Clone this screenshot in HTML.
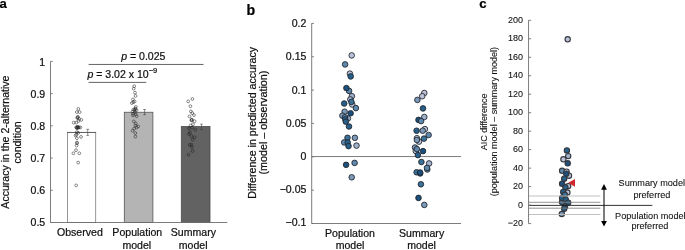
<!DOCTYPE html>
<html lang="en"><head><meta charset="utf-8"><title>Figure</title>
<style>
html,body{margin:0;padding:0;background:#fff;}
body{width:685px;height:250px;overflow:hidden;}
svg{display:block;}
text{font-family:"Liberation Sans", sans-serif;fill:#111;stroke:#111;stroke-width:0.22px;}
.t{font-size:10.55px;}
#panel-c .t{stroke-width:0.08px;}
.pl{font-size:12.8px;font-weight:bold;fill:#000;}
.ax{stroke:#6e6e6e;stroke-width:0.9;fill:none;}
.oc{fill:none;stroke:#1e1e1e;stroke-width:0.52;}
.dc{stroke:#1e2229;stroke-width:0.85;}
</style></head><body>
<svg width="685" height="250" viewBox="0 0 685 250">
<rect width="685" height="250" fill="#ffffff"/>
<g id="panel-a">
<text class="pl" x="-0.4" y="8.3" style="font-size:13.1px">a</text>
<rect x="67.4" y="132.45" width="28.3" height="90.1" fill="#ffffff" stroke="#7c7c7c" stroke-width="0.8"/>
<path d="M67.0 132.45 H96.1" stroke="#5a5a5a" stroke-width="0.9" fill="none"/>
<rect x="124.3" y="112.25" width="28.6" height="110.2" fill="#b4b4b4" stroke="#555555" stroke-width="0.8"/>
<rect x="181.3" y="126.5" width="28.7" height="96.0" fill="#626262" stroke="#4c4c4c" stroke-width="0.8"/>
<path class="ax" d="M50.5 61.4 V222.5 H227.3"/>
<path class="ax" d="M50.5 222.50 h2.2"/>
<text class="t" x="45.2" y="226.10" text-anchor="end">0.5</text>
<path class="ax" d="M50.5 190.28 h2.2"/>
<text class="t" x="45.2" y="193.98" text-anchor="end">0.6</text>
<path class="ax" d="M50.5 158.06 h2.2"/>
<text class="t" x="45.2" y="161.86" text-anchor="end">0.7</text>
<path class="ax" d="M50.5 125.84 h2.2"/>
<text class="t" x="45.2" y="129.74" text-anchor="end">0.8</text>
<path class="ax" d="M50.5 93.62 h2.2"/>
<text class="t" x="45.2" y="97.62" text-anchor="end">0.9</text>
<path class="ax" d="M50.5 61.40 h2.2"/>
<text class="t" x="45.2" y="65.50" text-anchor="end">1</text>
<circle class="oc" cx="78.3" cy="108.9" r="1.4"/>
<circle class="oc" cx="76.8" cy="112.1" r="1.4"/>
<circle class="oc" cx="79.6" cy="112.1" r="1.4"/>
<circle class="oc" cx="77.9" cy="116.8" r="1.4"/>
<circle class="oc" cx="77.6" cy="117.4" r="1.4"/>
<circle class="oc" cx="77.3" cy="118" r="1.4"/>
<circle class="oc" cx="79" cy="118.8" r="1.4"/>
<circle class="oc" cx="81.4" cy="119.9" r="1.4"/>
<circle class="oc" cx="73.7" cy="122.6" r="1.4"/>
<circle class="oc" cx="76.3" cy="122.6" r="1.4"/>
<circle class="oc" cx="78.5" cy="121" r="1.4"/>
<circle class="oc" cx="76.2" cy="127.3" r="1.4"/>
<circle class="oc" cx="76.8" cy="127.6" r="1.4"/>
<circle class="oc" cx="77.5" cy="127.2" r="1.4"/>
<circle class="oc" cx="78.2" cy="127.7" r="1.4"/>
<circle class="oc" cx="79.0" cy="127.4" r="1.4"/>
<circle class="oc" cx="77.0" cy="128.2" r="1.4"/>
<circle class="oc" cx="77.8" cy="126.8" r="1.4"/>
<circle class="oc" cx="80.3" cy="127.5" r="1.4"/>
<circle class="oc" cx="76.9" cy="132.1" r="1.4"/>
<circle class="oc" cx="78.2" cy="132.9" r="1.4"/>
<circle class="oc" cx="76.3" cy="134.5" r="1.4"/>
<circle class="oc" cx="75.6" cy="135.6" r="1.4"/>
<circle class="oc" cx="81" cy="136.9" r="1.4"/>
<circle class="oc" cx="76.9" cy="138.2" r="1.4"/>
<circle class="oc" cx="76.9" cy="142.6" r="1.4"/>
<circle class="oc" cx="77.1" cy="143.2" r="1.4"/>
<circle class="oc" cx="76.6" cy="145.6" r="1.4"/>
<circle class="oc" cx="76" cy="150.2" r="1.4"/>
<circle class="oc" cx="73.4" cy="153.3" r="1.4"/>
<circle class="oc" cx="79.3" cy="153.3" r="1.4"/>
<circle class="oc" cx="78.2" cy="162.6" r="1.4"/>
<circle class="oc" cx="76.2" cy="185.4" r="1.4"/>
<circle class="oc" cx="134.2" cy="86.2" r="1.4"/>
<circle class="oc" cx="133.7" cy="88.7" r="1.4"/>
<circle class="oc" cx="135" cy="92.7" r="1.4"/>
<circle class="oc" cx="135.6" cy="95.9" r="1.4"/>
<circle class="oc" cx="133" cy="99.4" r="1.4"/>
<circle class="oc" cx="134.6" cy="101.5" r="1.4"/>
<circle class="oc" cx="133.2" cy="102.2" r="1.4"/>
<circle class="oc" cx="131.8" cy="103.1" r="1.4"/>
<circle class="oc" cx="135.8" cy="106.9" r="1.4"/>
<circle class="oc" cx="135.4" cy="108.5" r="1.4"/>
<circle class="oc" cx="135.1" cy="109.4" r="1.4"/>
<circle class="oc" cx="134.6" cy="110.2" r="1.4"/>
<circle class="oc" cx="133.4" cy="109.5" r="1.4"/>
<circle class="oc" cx="136.6" cy="110.1" r="1.4"/>
<circle class="oc" cx="132.6" cy="111.4" r="1.4"/>
<circle class="oc" cx="135" cy="112.2" r="1.4"/>
<circle class="oc" cx="133" cy="113.8" r="1.4"/>
<circle class="oc" cx="135.8" cy="114.3" r="1.4"/>
<circle class="oc" cx="133" cy="115.4" r="1.4"/>
<circle class="oc" cx="136.6" cy="116.2" r="1.4"/>
<circle class="oc" cx="133.8" cy="121.4" r="1.4"/>
<circle class="oc" cx="135.8" cy="123.5" r="1.4"/>
<circle class="oc" cx="135.4" cy="125.6" r="1.4"/>
<circle class="oc" cx="138.2" cy="126.4" r="1.4"/>
<circle class="oc" cx="136.6" cy="127.5" r="1.4"/>
<circle class="oc" cx="134.2" cy="128.6" r="1.4"/>
<circle class="oc" cx="132.6" cy="130.7" r="1.4"/>
<circle class="oc" cx="135.4" cy="133.1" r="1.4"/>
<circle class="oc" cx="135.4" cy="136.6" r="1.4"/>
<circle class="oc" cx="192.4" cy="99" r="1.4"/>
<circle class="oc" cx="188.2" cy="101.4" r="1.4"/>
<circle class="oc" cx="190.4" cy="106.2" r="1.4"/>
<circle class="oc" cx="190.9" cy="111.4" r="1.4"/>
<circle class="oc" cx="192.2" cy="113.1" r="1.4"/>
<circle class="oc" cx="194" cy="115.1" r="1.4"/>
<circle class="oc" cx="189.5" cy="116.4" r="1.4"/>
<circle class="oc" cx="191.4" cy="120" r="1.4"/>
<circle class="oc" cx="191.9" cy="119.6" r="1.4"/>
<circle class="oc" cx="191.7" cy="120.4" r="1.4"/>
<circle class="oc" cx="194.6" cy="121.2" r="1.4"/>
<circle class="oc" cx="193" cy="124.2" r="1.4"/>
<circle class="oc" cx="190.6" cy="125.5" r="1.4"/>
<circle class="oc" cx="189" cy="128.2" r="1.4"/>
<circle class="oc" cx="192" cy="127.7" r="1.4"/>
<circle class="oc" cx="195.4" cy="129.7" r="1.4"/>
<circle class="oc" cx="190" cy="132.3" r="1.4"/>
<circle class="oc" cx="189" cy="134.1" r="1.4"/>
<circle class="oc" cx="191.4" cy="136.1" r="1.4"/>
<circle class="oc" cx="194.6" cy="137.3" r="1.4"/>
<circle class="oc" cx="192.7" cy="139.6" r="1.4"/>
<circle class="oc" cx="189.8" cy="144.9" r="1.4"/>
<circle class="oc" cx="191.4" cy="144.6" r="1.4"/>
<circle class="oc" cx="191.9" cy="147" r="1.4"/>
<circle class="oc" cx="192.5" cy="151" r="1.4"/>
<circle class="oc" cx="188.5" cy="154.8" r="1.4"/>
<path d="M87.7 129.3 V135.4 M86.3 129.3 h2.8 M86.3 135.4 h2.8" stroke="#3a3a3a" stroke-width="0.55" fill="none"/>
<path d="M144.6 109.5 V114.7 M143.2 109.5 h2.8 M143.2 114.7 h2.8" stroke="#333" stroke-width="0.55" fill="none"/>
<path d="M201.5 124.2 V129.5 M200.1 124.2 h2.8 M200.1 129.5 h2.8" stroke="#3a3a3a" stroke-width="0.55" fill="none"/>
<path d="M88.6 64.45 H203.5 M88.6 82.4 H146.3" stroke="#3c3c3c" stroke-width="0.8" fill="none"/>
<text class="t" x="143.3" y="60.1" text-anchor="middle"><tspan font-style="italic">p</tspan> = 0.025</text>
<text class="t" x="87.4" y="78.2"><tspan font-style="italic">p</tspan> = 3.02 x 10<tspan font-size="7.5px" dy="-4.8">−9</tspan></text>
<text class="t" x="79.9" y="235.7" text-anchor="middle">Observed</text>
<text class="t" x="137.3" y="235.7" text-anchor="middle">Population</text>
<text class="t" x="136.8" y="248.6" text-anchor="middle">model</text>
<text class="t" x="193.4" y="235.7" text-anchor="middle">Summary</text>
<text class="t" x="193.2" y="248.6" text-anchor="middle">model</text>
<text class="t" transform="translate(8.7 142.1) rotate(-90)" text-anchor="middle">Accuracy in the 2-alternative</text>
<text class="t" transform="translate(21.4 142.4) rotate(-90)" text-anchor="middle">condition</text>
</g>
<g id="panel-b">
<text class="pl" x="246.6" y="14.6" style="font-size:14.2px">b</text>
<path class="ax" d="M311.7 23.4 V223.5 H461"/>
<path class="ax" d="M311.7 156.55 H461"/>
<path class="ax" d="M311.7 23.40 h2.2"/>
<text class="t" x="306.4" y="27.10" text-anchor="end">0.2</text>
<path class="ax" d="M311.7 56.75 h2.2"/>
<text class="t" x="306.4" y="60.32" text-anchor="end">0.15</text>
<path class="ax" d="M311.7 90.10 h2.2"/>
<text class="t" x="306.4" y="93.53" text-anchor="end">0.1</text>
<path class="ax" d="M311.7 123.45 h2.2"/>
<text class="t" x="306.4" y="126.75" text-anchor="end">0.05</text>
<path class="ax" d="M311.7 156.80 h2.2"/>
<text class="t" x="306.4" y="159.97" text-anchor="end">0</text>
<path class="ax" d="M311.7 190.15 h2.2"/>
<text class="t" x="306.4" y="193.18" text-anchor="end">−0.05</text>
<path class="ax" d="M311.7 223.50 h2.2"/>
<text class="t" x="306.4" y="226.40" text-anchor="end">−0.1</text>
<circle class="dc" cx="351.7" cy="55.4" r="2.8" fill="#bbc1d6"/>
<circle class="dc" cx="345.1" cy="64.4" r="2.8" fill="#5f88ad"/>
<circle class="dc" cx="349.9" cy="73.6" r="2.8" fill="#bbc1d6"/>
<circle class="dc" cx="350.7" cy="76.4" r="2.8" fill="#275f89"/>
<circle class="dc" cx="349.1" cy="90.9" r="2.8" fill="#5f88ad"/>
<circle class="dc" cx="346.4" cy="88.1" r="2.8" fill="#1b507c"/>
<circle class="dc" cx="351.9" cy="96.2" r="2.8" fill="#a0b1cb"/>
<circle class="dc" cx="350.3" cy="99.4" r="2.8" fill="#a0b1cb"/>
<circle class="dc" cx="352.2" cy="104.5" r="2.8" fill="#bbc1d6"/>
<circle class="dc" cx="351.4" cy="101.9" r="2.8" fill="#3b7098"/>
<circle class="dc" cx="344.2" cy="103.5" r="2.8" fill="#275f89"/>
<circle class="dc" cx="355.9" cy="108.1" r="2.8" fill="#5f88ad"/>
<circle class="dc" cx="344.6" cy="111.7" r="2.8" fill="#7b99b9"/>
<circle class="dc" cx="350.6" cy="113.3" r="2.8" fill="#1b507c"/>
<circle class="dc" cx="342.4" cy="115.7" r="2.8" fill="#7b99b9"/>
<circle class="dc" cx="347.9" cy="118.5" r="2.8" fill="#a0b1cb"/>
<circle class="dc" cx="345" cy="117.3" r="2.8" fill="#5f88ad"/>
<circle class="dc" cx="345.3" cy="119.3" r="2.8" fill="#275f89"/>
<circle class="dc" cx="345.8" cy="121.7" r="2.8" fill="#275f89"/>
<circle class="dc" cx="349" cy="126.5" r="2.8" fill="#275f89"/>
<circle class="dc" cx="347.5" cy="137.8" r="2.8" fill="#3b7098"/>
<circle class="dc" cx="354.9" cy="137.8" r="2.8" fill="#7b99b9"/>
<circle class="dc" cx="344.2" cy="142.4" r="2.8" fill="#5f88ad"/>
<circle class="dc" cx="347.7" cy="142.5" r="2.8" fill="#275f89"/>
<circle class="dc" cx="348.5" cy="146.1" r="2.8" fill="#275f89"/>
<circle class="dc" cx="356.5" cy="145.6" r="2.8" fill="#a0b1cb"/>
<circle class="dc" cx="354.6" cy="162.9" r="2.8" fill="#5f88ad"/>
<circle class="dc" cx="346.1" cy="164.8" r="2.8" fill="#1b507c"/>
<circle class="dc" cx="351.7" cy="177.3" r="2.8" fill="#7b99b9"/>
<circle class="dc" cx="424.3" cy="93" r="2.8" fill="#bbc1d6"/>
<circle class="dc" cx="422.2" cy="96.2" r="2.8" fill="#bbc1d6"/>
<circle class="dc" cx="417.4" cy="99.9" r="2.8" fill="#7b99b9"/>
<circle class="dc" cx="423" cy="108.4" r="2.8" fill="#275f89"/>
<circle class="dc" cx="424.3" cy="117" r="2.8" fill="#a0b1cb"/>
<circle class="dc" cx="418.5" cy="119.9" r="2.8" fill="#1b507c"/>
<circle class="dc" cx="421.1" cy="121.1" r="2.8" fill="#5f88ad"/>
<circle class="dc" cx="424.9" cy="129.1" r="2.8" fill="#bbc1d6"/>
<circle class="dc" cx="416.6" cy="130.7" r="2.8" fill="#275f89"/>
<circle class="dc" cx="422.7" cy="130.7" r="2.8" fill="#7b99b9"/>
<circle class="dc" cx="428.6" cy="135" r="2.8" fill="#5f88ad"/>
<circle class="dc" cx="416.9" cy="138.2" r="2.8" fill="#bbc1d6"/>
<circle class="dc" cx="419" cy="141.6" r="2.8" fill="#bbc1d6"/>
<circle class="dc" cx="416.9" cy="140" r="2.8" fill="#7b99b9"/>
<circle class="dc" cx="424" cy="138.6" r="2.8" fill="#3b7098"/>
<circle class="dc" cx="415" cy="147.5" r="2.8" fill="#7b99b9"/>
<circle class="dc" cx="415.8" cy="151.1" r="2.8" fill="#bbc1d6"/>
<circle class="dc" cx="416.9" cy="149.1" r="2.8" fill="#5f88ad"/>
<circle class="dc" cx="423" cy="151.1" r="2.8" fill="#1b507c"/>
<circle class="dc" cx="417.9" cy="155.1" r="2.8" fill="#275f89"/>
<circle class="dc" cx="421.4" cy="162" r="2.8" fill="#3b7098"/>
<circle class="dc" cx="429.1" cy="163.4" r="2.8" fill="#a0b1cb"/>
<circle class="dc" cx="427.3" cy="169.5" r="2.8" fill="#5f88ad"/>
<circle class="dc" cx="427" cy="167.9" r="2.8" fill="#5f88ad"/>
<circle class="dc" cx="416.6" cy="172.3" r="2.8" fill="#3b7098"/>
<circle class="dc" cx="420.2" cy="173.4" r="2.8" fill="#275f89"/>
<circle class="dc" cx="420.1" cy="172.5" r="2.8" fill="#1b507c"/>
<circle class="dc" cx="420.9" cy="184.3" r="2.8" fill="#3b7098"/>
<circle class="dc" cx="418.5" cy="197.9" r="2.8" fill="#1b507c"/>
<circle class="dc" cx="424.3" cy="204.9" r="2.8" fill="#7b99b9"/>
<text class="t" x="350" y="236.5" text-anchor="middle">Population</text>
<text class="t" x="350" y="249.3" text-anchor="middle">model</text>
<text class="t" x="421.6" y="236.5" text-anchor="middle">Summary</text>
<text class="t" x="421.6" y="249.3" text-anchor="middle">model</text>
<text class="t" style="font-size:10.65px" transform="translate(255.5 122.8) rotate(-90)" text-anchor="middle">Difference in predicted accuracy</text>
<text class="t" style="font-size:10.75px" transform="translate(266.5 122.6) rotate(-90)" text-anchor="middle">(model – observation)</text>
</g>
<g id="panel-c">
<text class="pl" x="479.2" y="7.9" style="font-size:13.2px">c</text>
<circle class="dc" style="stroke-width:1.1;stroke:#34373d" cx="567.7" cy="39.3" r="2.65" fill="#bbc1d6"/>
<circle class="dc" style="stroke-width:1.1;stroke:#34373d" cx="566.9" cy="150.4" r="2.65" fill="#275f89"/>
<circle class="dc" style="stroke-width:1.1;stroke:#34373d" cx="568.2" cy="156.1" r="2.65" fill="#a0b1cb"/>
<circle class="dc" style="stroke-width:1.1;stroke:#34373d" cx="563.4" cy="159.3" r="2.65" fill="#bbc1d6"/>
<circle class="dc" style="stroke-width:1.1;stroke:#34373d" cx="567.7" cy="163.3" r="2.65" fill="#1b507c"/>
<circle class="dc" style="stroke-width:1.1;stroke:#34373d" cx="562.1" cy="170.8" r="2.65" fill="#5f88ad"/>
<circle class="dc" style="stroke-width:1.1;stroke:#34373d" cx="566.6" cy="171.6" r="2.65" fill="#bbc1d6"/>
<circle class="dc" style="stroke-width:1.1;stroke:#34373d" cx="569" cy="175.7" r="2.65" fill="#bbc1d6"/>
<circle class="dc" style="stroke-width:1.1;stroke:#34373d" cx="566.3" cy="173.7" r="2.65" fill="#1b507c"/>
<circle class="dc" style="stroke-width:1.1;stroke:#34373d" cx="564.2" cy="178.7" r="2.65" fill="#275f89"/>
<circle class="dc" style="stroke-width:1.1;stroke:#34373d" cx="568.2" cy="186.1" r="2.65" fill="#bbc1d6"/>
<circle class="dc" style="stroke-width:1.1;stroke:#34373d" cx="562.1" cy="183.7" r="2.65" fill="#1b507c"/>
<circle class="dc" style="stroke-width:1.1;stroke:#34373d" cx="565.4" cy="187.3" r="2.65" fill="#275f89"/>
<circle class="dc" style="stroke-width:1.1;stroke:#34373d" cx="567.4" cy="192.5" r="2.65" fill="#bbc1d6"/>
<circle class="dc" style="stroke-width:1.1;stroke:#34373d" cx="563.2" cy="191.9" r="2.65" fill="#275f89"/>
<circle class="dc" style="stroke-width:1.1;stroke:#34373d" cx="564.8" cy="194.8" r="2.65" fill="#3b7098"/>
<circle class="dc" style="stroke-width:1.1;stroke:#34373d" cx="562" cy="202.1" r="2.65" fill="#3b7098"/>
<circle class="dc" style="stroke-width:1.1;stroke:#34373d" cx="562.1" cy="198" r="2.65" fill="#275f89"/>
<circle class="dc" style="stroke-width:1.1;stroke:#34373d" cx="565.8" cy="199.6" r="2.65" fill="#275f89"/>
<circle class="dc" style="stroke-width:1.1;stroke:#34373d" cx="568.2" cy="202.6" r="2.65" fill="#275f89"/>
<circle class="dc" style="stroke-width:1.1;stroke:#34373d" cx="565" cy="206.6" r="2.65" fill="#275f89"/>
<circle class="dc" style="stroke-width:1.1;stroke:#34373d" cx="564.2" cy="208.7" r="2.65" fill="#275f89"/>
<circle class="dc" style="stroke-width:1.1;stroke:#34373d" cx="561.8" cy="214" r="2.65" fill="#7b99b9"/>
<path d="M528.55 196.0 H600.4 M528.55 214.5 H600.4" stroke="#bebebe" stroke-width="0.95" fill="none"/>
<path d="M528.55 202.3 H600.4 M528.55 208.2 H600.4" stroke="#808080" stroke-width="0.85" fill="none"/>
<path d="M528.55 205.4 H652.3" stroke="#1c1c1c" stroke-width="0.9" fill="none"/>
<path class="ax" d="M528.55 20.3 V223.6"/>
<path class="ax" d="M528.55 223.60 h2.6"/>
<text class="t" style="font-size:9px" x="523.1" y="226.30" text-anchor="end">−20</text>
<path class="ax" d="M528.55 205.12 h2.6"/>
<text class="t" style="font-size:9px" x="523.1" y="207.80" text-anchor="end">0</text>
<path class="ax" d="M528.55 186.64 h2.6"/>
<text class="t" style="font-size:9px" x="523.1" y="189.30" text-anchor="end">20</text>
<path class="ax" d="M528.55 168.15 h2.6"/>
<text class="t" style="font-size:9px" x="523.1" y="170.80" text-anchor="end">40</text>
<path class="ax" d="M528.55 149.67 h2.6"/>
<text class="t" style="font-size:9px" x="523.1" y="152.30" text-anchor="end">60</text>
<path class="ax" d="M528.55 131.19 h2.6"/>
<text class="t" style="font-size:9px" x="523.1" y="133.80" text-anchor="end">80</text>
<path class="ax" d="M528.55 112.71 h2.6"/>
<text class="t" style="font-size:9px" x="523.1" y="115.30" text-anchor="end">100</text>
<path class="ax" d="M528.55 94.23 h2.6"/>
<text class="t" style="font-size:9px" x="523.1" y="96.80" text-anchor="end">120</text>
<path class="ax" d="M528.55 75.75 h2.6"/>
<text class="t" style="font-size:9px" x="523.1" y="78.30" text-anchor="end">140</text>
<path class="ax" d="M528.55 57.26 h2.6"/>
<text class="t" style="font-size:9px" x="523.1" y="59.80" text-anchor="end">160</text>
<path class="ax" d="M528.55 38.78 h2.6"/>
<text class="t" style="font-size:9px" x="523.1" y="41.30" text-anchor="end">180</text>
<path class="ax" d="M528.55 20.30 h2.6"/>
<text class="t" style="font-size:9px" x="523.1" y="22.80" text-anchor="end">200</text>
<path d="M568.2 182.8 L575 178.9 L575 186.7 Z" fill="#d0282d"/>
<path d="M604.0 188 V222.5" stroke="#111" stroke-width="1.1" fill="none"/>
<path d="M604.0 184.0 L606.9 189.7 L601.1 189.7 Z M604.0 226.5 L606.9 220.9 L601.1 220.9 Z" fill="#000"/>
<text class="t" style="font-size:9.15px" x="618.6" y="186.4">Summary model</text>
<text class="t" style="font-size:9.15px" x="651.9" y="198.0" text-anchor="middle">preferred</text>
<text class="t" style="font-size:9.15px" x="615.1" y="218.8">Population model</text>
<text class="t" style="font-size:9.15px" x="649.9" y="229.1" text-anchor="middle">preferred</text>
<text class="t" style="font-size:9px" transform="translate(486.6 121.8) rotate(-90)" text-anchor="middle">AIC difference</text>
<text class="t" style="font-size:9.05px" transform="translate(497.4 121.6) rotate(-90)" text-anchor="middle">(population model – summary model)</text>
</g>
</svg>
</body></html>
